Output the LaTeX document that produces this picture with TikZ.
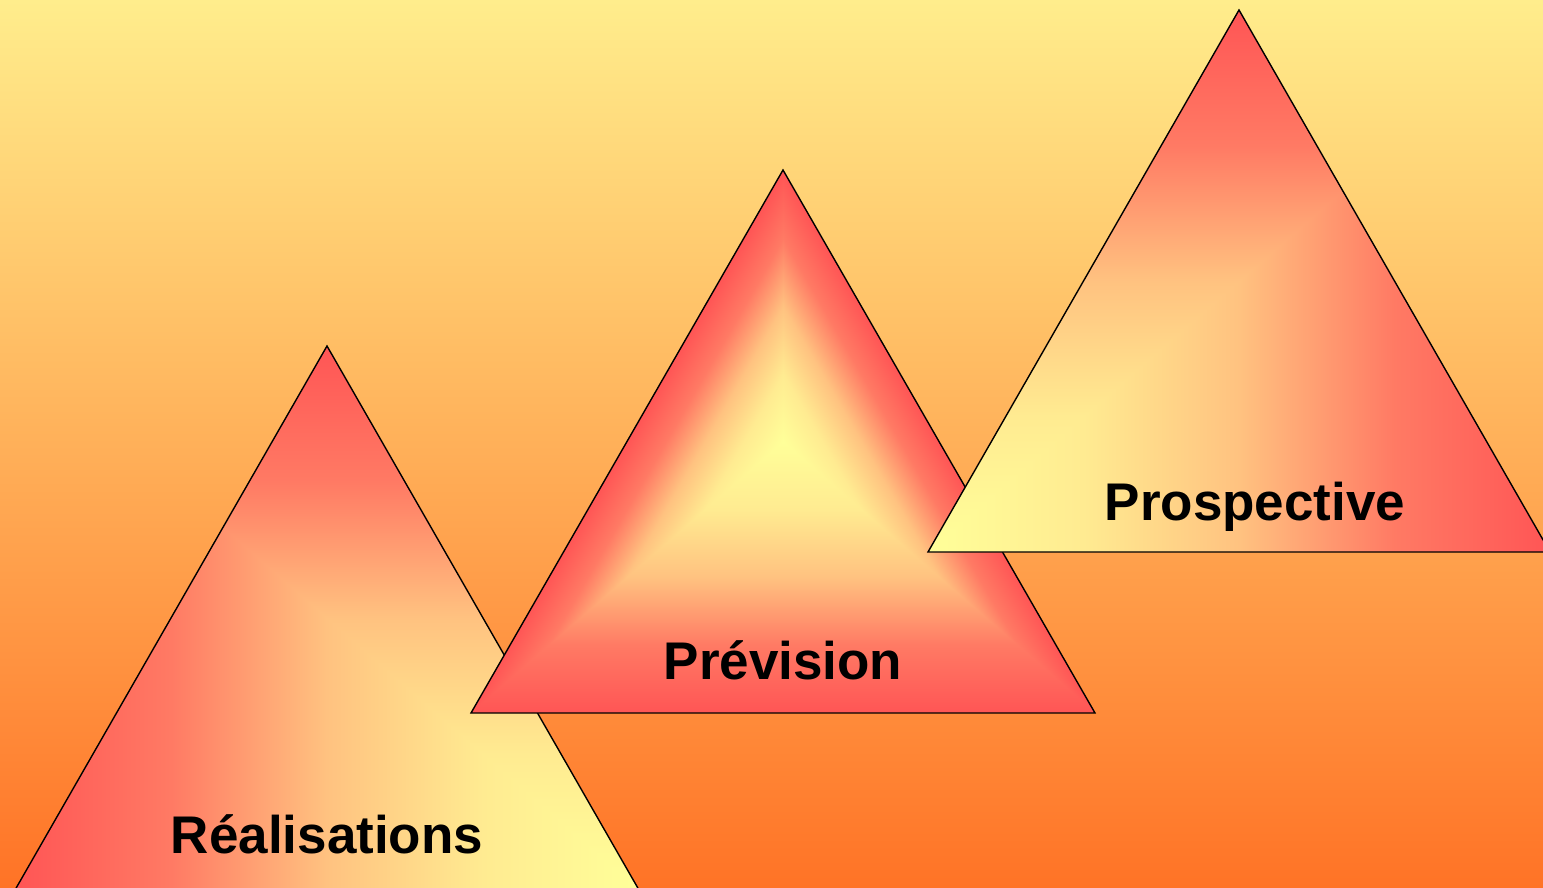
\documentclass[tikz,border=0pt]{standalone}
\usepackage{fontspec}
\setmainfont{Liberation Sans}
\definecolor{tred}{RGB}{255,85,85}
\definecolor{tyel}{RGB}{255,255,153}
\definecolor{gA}{RGB}{255,235,145}
\definecolor{gB}{RGB}{255,194,128}
\definecolor{gC}{RGB}{255,122,100}
\definecolor{bgtop}{RGB}{255,237,140}
\definecolor{bgbot}{RGB}{255,115,38}
\pgfdeclareverticalshading{vYR}{100bp}{color(0bp)=(tred); color(25bp)=(tred); color(37.5bp)=(gC); color(50bp)=(gB); color(62.5bp)=(gA); color(75bp)=(tyel); color(100bp)=(tyel)}
\pgfdeclareverticalshading{vRY}{100bp}{color(0bp)=(tyel); color(25bp)=(tyel); color(37.5bp)=(gA); color(50bp)=(gB); color(62.5bp)=(gC); color(75bp)=(tred); color(100bp)=(tred)}
\pgfdeclarehorizontalshading{hRY}{100bp}{color(0bp)=(tred); color(25bp)=(tred); color(37.5bp)=(gC); color(50bp)=(gB); color(62.5bp)=(gA); color(75bp)=(tyel); color(100bp)=(tyel)}
\pgfdeclarehorizontalshading{hYR}{100bp}{color(0bp)=(tyel); color(25bp)=(tyel); color(37.5bp)=(gA); color(50bp)=(gB); color(62.5bp)=(gC); color(75bp)=(tred); color(100bp)=(tred)}
\begin{document}
\begin{tikzpicture}[x=0.5pt,y=-0.5pt,
  tri/.style={draw=black,line width=0.7pt,line join=miter},
  lbl/.style={font=\fontsize{26.5}{30}\selectfont\bfseries,anchor=base,inner sep=0pt,text=black}]
\useasboundingbox (0,0) rectangle (1543,888);
\clip (0,0) rectangle (1543,888);
\shade[top color=bgtop,bottom color=bgbot] (0,0) rectangle (1543,888);

% Realisations
\coordinate (ra) at (327,346);
\coordinate (rl) at (15,890);
\coordinate (rr) at (639,890);
\begin{scope}
  \clip (ra)--(rl)--(rr)--cycle;
  \shade[shading=hRY] (15,346) rectangle (639,890);
  \clip (15,346)--(639,346)--(639,890)--cycle;
  \shade[shading=vRY] (15,346) rectangle (639,890);
\end{scope}
\draw[tri] (ra)--(rl)--(rr)--cycle;
\node[lbl] (realisations) at (327,853) {Réalisations};

% Prevision
\coordinate (pa) at (783,170);
\coordinate (pl) at (471,713);
\coordinate (pr) at (1095,713);
\coordinate (pc) at (783,441.5);
\begin{scope}
  \clip (pa)--(pl)--(pr)--cycle;
  \shade[shading=vYR] (471,441.5) rectangle (1095,713);
  \begin{scope}
    \clip (pc)--(pa)--(pl)--cycle;
    \begin{scope}[transform canvas={rotate around={-120:(pc)}}]
      \shade[shading=vYR] (83,441.5) rectangle (1483,576.76);
    \end{scope}
  \end{scope}
  \begin{scope}
    \clip (pc)--(pa)--(pr)--cycle;
    \begin{scope}[transform canvas={rotate around={120:(pc)}}]
      \shade[shading=vYR] (83,441.5) rectangle (1483,576.76);
    \end{scope}
  \end{scope}
\end{scope}
\draw[tri] (pa)--(pl)--(pr)--cycle;
\node[lbl] (prevision) at (783,679) {Prévision};

% Prospective
\coordinate (sa) at (1239,10);
\coordinate (sl) at (928,552);
\coordinate (sr) at (1550,552);
\begin{scope}
  \clip (sa)--(sl)--(sr)--cycle;
  \shade[shading=hYR] (928,10) rectangle (1550,552);
  \clip (928,552)--(928,10)--(1550,10)--cycle;
  \shade[shading=vRY] (928,10) rectangle (1550,552);
\end{scope}
\draw[tri] (sa)--(sl)--(sr)--cycle;
\node[lbl] (prospective) at (1255,520) {Prospective};
\end{tikzpicture}
\end{document}
